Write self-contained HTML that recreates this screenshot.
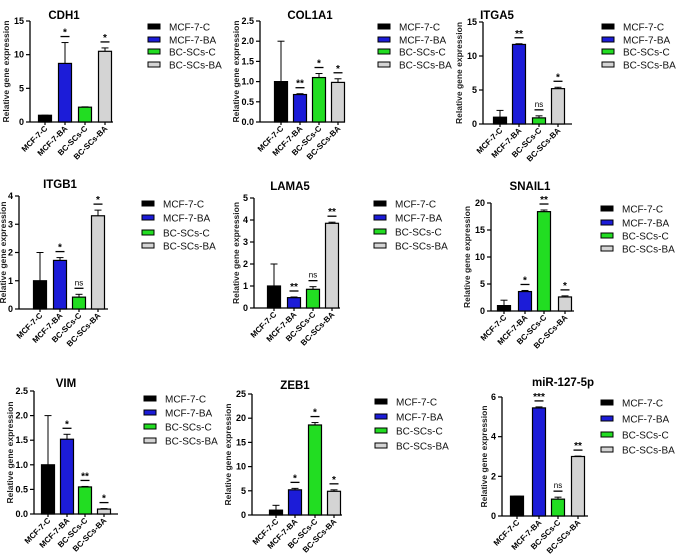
<!DOCTYPE html>
<html><head><meta charset="utf-8"><style>
html,body{margin:0;padding:0;background:#fff}
svg{display:block;font-family:"Liberation Sans",Arial,sans-serif}
</style></head><body>
<svg id="fig" width="676" height="557" viewBox="0 0 676 557"></svg>
<script>
const categories = ["MCF-7-C","MCF-7-BA","BC-SCs-C","BC-SCs-BA"];
const seriesColors = ["#000000","#1c1cd8","#22dd22","#d4d4d4"];
const titles = ["CDH1","COL1A1","ITGA5","ITGB1","LAMA5","SNAIL1","VIM","ZEB1","miR-127-5p"];
const valuesCDH1 = [1, 8.7, 2.2, 10.5];
const errorsCDH1 = [1, 11.8, 2.25, 11.0];
const sigCDH1 = ["", "*", "", "*"];
const ticksCDH1 = [0, 5, 10, 15];
const valuesCOL1A1 = [1.0, 0.68, 1.1, 0.98];
const errorsCOL1A1 = [2.0, 0.7, 1.2, 1.07];
const sigCOL1A1 = ["", "**", "*", "*"];
const ticksCOL1A1 = ["0.0","0.5","1.0","1.5","2.0","2.5"];
const valuesITGA5 = [1, 11.7, 0.9, 5.2];
const errorsITGA5 = [2, 11.8, 1.2, 5.4];
const sigITGA5 = ["", "**", "ns", "*"];
const ticksITGA5 = [0, 5, 10, 15];
const valuesITGB1 = [1.0, 1.72, 0.42, 3.3];
const errorsITGB1 = [2.0, 1.82, 0.52, 3.5];
const sigITGB1 = ["", "*", "ns", "*"];
const ticksITGB1 = [0, 1, 2, 3, 4];
const valuesLAMA5 = [1.0, 0.47, 0.85, 3.85];
const errorsLAMA5 = [2.0, 0.5, 0.97, 3.9];
const sigLAMA5 = ["", "**", "ns", "**"];
const ticksLAMA5 = [0, 1, 2, 3, 4, 5];
const valuesSNAIL1 = [1, 3.6, 18.4, 2.6];
const errorsSNAIL1 = [2, 3.8, 18.7, 2.8];
const sigSNAIL1 = ["", "*", "**", "*"];
const ticksSNAIL1 = [0, 5, 10, 15, 20];
const valuesVIM = [1.0, 1.52, 0.55, 0.1];
const errorsVIM = [2.0, 1.62, 0.56, 0.11];
const sigVIM = ["", "*", "**", "*"];
const ticksVIM = ["0.0","0.5","1.0","1.5","2.0","2.5"];
const valuesZEB1 = [1, 5.2, 18.6, 4.9];
const errorsZEB1 = [2, 5.5, 19.1, 5.2];
const sigZEB1 = ["", "*", "*", "*"];
const ticksZEB1 = [0, 5, 10, 15, 20, 25];
const valuesMIR = [1.0, 5.45, 0.85, 3.0];
const errorsMIR = [1.0, 5.5, 0.95, 3.02];
const sigMIR = ["", "***", "ns", "**"];
const ticksMIR = [0, 2, 4, 6];

const panelData = [
  [valuesCDH1, errorsCDH1, sigCDH1, ticksCDH1],
  [valuesCOL1A1, errorsCOL1A1, sigCOL1A1, ticksCOL1A1],
  [valuesITGA5, errorsITGA5, sigITGA5, ticksITGA5],
  [valuesITGB1, errorsITGB1, sigITGB1, ticksITGB1],
  [valuesLAMA5, errorsLAMA5, sigLAMA5, ticksLAMA5],
  [valuesSNAIL1, errorsSNAIL1, sigSNAIL1, ticksSNAIL1],
  [valuesVIM, errorsVIM, sigVIM, ticksVIM],
  [valuesZEB1, errorsZEB1, sigZEB1, ticksZEB1],
  [valuesMIR, errorsMIR, sigMIR, ticksMIR]
];
// layout (pixels)
const layouts = [
  {tx:64,ty:19,ax:30,y0:122,yt:21,end:113,xs:[45,65,85,105],lx:148,ly:[27,40,52,65],yo:21},
  {tx:310,ty:19,ax:260,y0:122,yt:21,end:345,xs:[281,300,319,338],lx:378,ly:[27,40,52,65],yo:21},
  {tx:497,ty:19,ax:483,y0:124,yt:22,end:572,xs:[500,519,539,558],lx:602,ly:[27,40,52,65],yo:21},
  {tx:60,ty:188,ax:19,y0:309,yt:196,end:108,xs:[40,60,79,98],lx:142,ly:[204,218,233,246],yo:13},
  {tx:290,ty:190,ax:254,y0:308,yt:198,end:340,xs:[274,294,313,332],lx:374,ly:[204,218,232,246],yo:15},
  {tx:530,ty:190,ax:491,y0:311,yt:203,end:574,xs:[504,525,544,565],lx:601,ly:[209,223,236,249],yo:21},
  {tx:66,ty:387,ax:34,y0:514,yt:391,end:118,xs:[48,67,85,104],lx:144,ly:[399,413,427,441],yo:21},
  {tx:295,ty:389,ax:252,y0:515,yt:394,end:342,xs:[276,295,315,334],lx:375,ly:[402,417,431,446],yo:21},
  {tx:563,ty:386,ax:502,y0:516,yt:397,end:588,xs:[517,539,558,578],lx:601,ly:[403,419,435,450],yo:15}
];
const NS="http://www.w3.org/2000/svg";
const svg=document.getElementById('fig');
function mk(tag,attrs,parent,text){const e=document.createElementNS(NS,tag);for(const k in attrs)e.setAttribute(k,attrs[k]);if(text!==undefined)e.textContent=text;parent.appendChild(e);return e;}
panelData.forEach((pd,pi)=>{
  const [vals,errs,sigs,ticks]=pd; const L=layouts[pi];
  const g=mk('g',{},svg);
  
  
  const tmax=parseFloat(ticks[ticks.length-1]);
  const y=v=>L.y0-(v/tmax)*(L.y0-L.yt);
  const t=mk('text',{x:L.tx,y:L.ty,'text-anchor':'middle','font-size':11.5,'font-weight':'bold'},g,titles[pi]);
  
  
  const yt=mk('text',{transform:`translate(${L.ax-L.yo},${(L.y0+L.yt)/2}) rotate(-90)`,'text-anchor':'middle','font-size':8.5,'font-weight':'bold',fill:'#222'},g,'Relative gene expression');
  
  
  mk('line',{x1:L.ax,y1:L.yt,x2:L.ax,y2:L.y0,stroke:'#000','stroke-width':1.3},g);
  mk('line',{x1:L.ax,y1:L.y0,x2:L.end,y2:L.y0,stroke:'#000','stroke-width':1.3},g);
  ticks.forEach(tk=>{
    const yy=y(parseFloat(tk));
    mk('line',{x1:L.ax-4,y1:yy,x2:L.ax,y2:yy,stroke:'#000','stroke-width':1.2},g);
    const lb=mk('text',{x:L.ax-6,y:yy+3,'text-anchor':'end','font-size':9,'font-weight':'bold'},g,String(tk));
    
    
  });
  vals.forEach((v,i)=>{
    const cx=L.xs[i], w=13;
    const ye=y(errs[i]);
    mk('line',{x1:cx,y1:ye,x2:cx,y2:y(v),stroke:'#000','stroke-width':1},g);
    mk('line',{x1:cx-3.5,y1:ye,x2:cx+3.5,y2:ye,stroke:'#000','stroke-width':1},g);
    const b=mk('rect',{x:cx-w/2,y:y(v),width:w,height:L.y0-y(v),fill:seriesColors[i],stroke:'#000','stroke-width':1.2},g);
    
    
    mk('line',{x1:cx,y1:L.y0,x2:cx,y2:L.y0+3,stroke:'#000','stroke-width':1.2},g);
    const xl=mk('text',{transform:`translate(${cx+3},${L.y0+7}) rotate(-45)`,'text-anchor':'end','font-size':8,'font-weight':'bold'},g,categories[i]);
    
    
    if(sigs[i]){
      const ly=ye-6;
      mk('line',{x1:cx-4.5,y1:ly,x2:cx+4.5,y2:ly,stroke:'#000','stroke-width':1.3},g);
      const st=mk('text',{x:cx,y:sigs[i]==='ns'?ly-3:ly-1,'text-anchor':'middle','font-size':sigs[i]==='ns'?8:10,'font-weight':sigs[i]==='ns'?'normal':'bold'},g,sigs[i]);
      
      
    }
  });
  categories.forEach((c,i)=>{
    const lg=mk('g',{},g);
    
    
    mk('rect',{x:L.lx,y:L.ly[i]-3,width:12,height:5,fill:seriesColors[i],stroke:'#000','stroke-width':1},lg);
    mk('text',{x:L.lx+21,y:L.ly[i]+3.5,'font-size':10,fill:'#111'},lg,c);
  });
});
</script>
</body></html>
